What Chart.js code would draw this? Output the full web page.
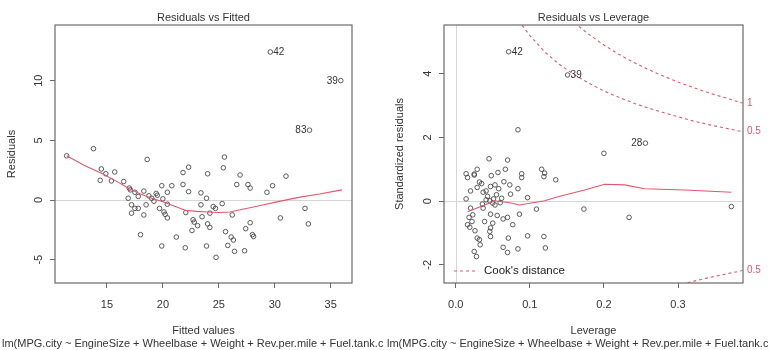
<!DOCTYPE html>
<html><head><meta charset="utf-8">
<script src="https://cdn.jsdelivr.net/npm/chart.js@4/dist/chart.umd.min.js"></script>
<style>
html,body{margin:0;padding:0;background:#fff;}
#wrap{position:relative;width:770px;height:350px;overflow:hidden;}
.pane{position:absolute;top:0;width:385px;height:350px;}
</style></head><body>
<div id="wrap">
<div class="pane" style="left:0"><canvas id="c1" width="385" height="350"></canvas></div>
<div class="pane" style="left:385px"><canvas id="c2" width="385" height="350"></canvas></div>
</div>
<script>
// ---- Residuals vs Fitted ----
const fittedValues = [11.4,13.8,14.5,14.9,15.7,18.6,21.8,22.3,24.0,25.4,25.5,26.9,31.0,29.6,35.9,33.1,
 14.4,15.4,16.5,17.0,17.1,17.5,16.9,17.8,18.3,18.75,19.0,19.2,19.4,19.5,19.9,20.0,20.4,20.8,21.8,22.3,
 17.2,17.5,17.2,17.8,18.3,18.5,19.7,20.1,20.2,20.4,20.4,18.0,19.9,21.2,22.0,22.05,
 23.4,23.9,23.4,23.5,22.7,22.8,22.6,23.1,24.0,24.2,24.2,24.5,24.7,23.9,24.75,
 25.3,25.6,25.8,26.1,26.3,26.4,26.2,26.6,27.6,27.8,27.8,27.4,27.3,28.0,28.1,29.3,29.8,30.5,32.7,33.0];
const residuals = [3.7,4.3,2.6,2.2,2.35,3.4,2.3,2.75,2.2,2.7,3.6,2.1,2.0,12.4,10.0,5.85,
 1.65,1.6,1.55,1.0,0.85,0.65,0.15,0.3,0.75,0.35,0.15,-0.1,0.55,0.4,1.2,0.1,0.65,1.2,1.3,0.7,
 -0.4,-0.7,-1.1,-0.7,-1.25,-0.4,-0.7,-1.0,-1.2,-1.5,-0.35,-2.9,-3.85,-3.1,-4.0,-1.05,
 0.6,0.15,-0.4,-1.4,-1.65,-1.85,-2.55,-2.15,-2.0,-2.3,-1.1,-0.55,-0.7,-3.85,-4.8,
 -0.3,-2.65,-3.8,-3.1,-3.35,-4.3,-1.25,1.3,1.3,1.0,-1.9,-2.4,-4.25,-2.9,-3.05,0.65,1.2,-1.5,-0.7,-2.0];
const smoothFitX = [11.4,13,14.6,16,17,18,19,20,21,22,23,24,25,26,27,28,29,30,32,34,36];
const smoothFitY = [3.7,2.9,2.2,1.5,0.95,0.5,0.15,-0.15,-0.5,-0.85,-0.95,-1.0,-1.05,-1.0,-0.8,-0.6,-0.4,-0.2,0.2,0.5,0.85];
const fitLabels = [{x:29.6,y:12.4,t:'42',side:'r'},{x:35.9,y:10.0,t:'39',side:'l'},{x:33.1,y:5.85,t:'83',side:'l'}];
const fitXTicks = [15,20,25,30,35];
const fitYTicks = [-5,0,5,10];

// ---- Residuals vs Leverage ----
const leverage = [0.0715,0.151,0.256,0.200,0.084,0.045,0.070,0.029,0.067,0.116,0.057,0.025,0.372,0.234,0.173,0.109,
 0.097,0.135,0.119,0.089,0.084,0.073,0.065,0.074,0.062,0.058,0.086,0.077,0.070,0.064,0.056,0.047,
 0.097,0.119,0.121,0.084,0.070,0.064,0.071,0.047,0.046,0.047,0.050,0.039,0.032,0.033,0.029,0.025,0.028,
 0.026,0.019,0.016,0.022,0.018,0.023,0.020,0.014,0.016,0.025,0.032,0.029,0.020,0.037,0.041,0.047,0.053,
 0.041,0.046,0.050,0.053,0.051,0.037,0.036,0.055,0.060,0.043,0.035,0.048,0.014,0.089,0.120];
const stdResiduals = [4.69,3.96,1.82,1.50,2.24,1.33,1.29,1.00,1.00,1.00,0.90,0.85,-0.17,-0.51,-0.25,-0.25,
 0.11,0.67,0.77,0.74,0.39,0.51,0.61,0.22,0.09,0.39,-0.41,-0.74,-0.51,-0.56,-0.45,-0.41,
 -1.09,-1.11,-1.47,-1.50,-1.61,-1.45,-1.16,-1.11,-0.95,-0.84,-0.69,-0.64,-1.21,-1.37,-1.16,-1.58,-1.74,
 -0.93,-0.82,-0.74,-0.64,-0.51,-0.43,-0.22,0.07,0.74,0.82,0.60,0.43,0.32,0.28,0.32,0.46,0.51,
 0.04,0.01,-0.06,-0.12,0.07,-0.22,-0.09,0.20,-0.05,0.15,0.55,0.80,0.86,0.86,0.88];
const smoothLevX = [0.016,0.039,0.053,0.075,0.086,0.102,0.120,0.138,0.174,0.201,0.228,0.255,0.309,0.372];
const smoothLevY = [-0.33,-0.12,0.01,-0.06,-0.12,-0.06,0.01,0.14,0.35,0.53,0.51,0.39,0.35,0.28];
const cookHalfX = [0.085,0.09,0.10,0.12,0.14,0.16,0.18,0.20,0.22,0.24,0.26,0.28,0.30,0.32,0.34,0.36,0.387];
const cookHalfY = [5.68,5.51,5.20,4.69,4.29,3.97,3.70,3.46,3.26,3.08,2.92,2.78,2.65,2.52,2.41,2.31,2.18];
const cookOneX = [0.16,0.165,0.18,0.20,0.22,0.24,0.26,0.28,0.30,0.32,0.34,0.36,0.387];
const cookOneY = [5.61,5.51,5.23,4.90,4.61,4.36,4.13,3.93,3.74,3.57,3.41,3.27,3.08];
const cookHalfLowX = [0.305,0.32,0.34,0.36,0.387];
const cookHalfLowY = [-2.62,-2.52,-2.41,-2.31,-2.18];
const levLabels = [{x:0.0715,y:4.69,t:'42',side:'r'},{x:0.151,y:3.96,t:'39',side:'r'},{x:0.256,y:1.82,t:'28',side:'l'}];
const levXTicks = [0,0.1,0.2,0.3];
const levXTickLabels = ['0.0','0.1','0.2','0.3'];
const levYTicks = [-2,0,2,4];
const caption = 'lm(MPG.city ~ EngineSize + Wheelbase + Weight + Rev.per.mile + Fuel.tank.c';

const RED = '#E2566C';
const FONT = '"Liberation Sans", Arial, sans-serif';
const zip = (a,b) => a.map((v,i)=>({x:v,y:b[i]}));

const deco = {
  id:'rdeco',
  beforeDatasetsDraw(chart){
    const o = chart.options.plugins.rdeco; const {ctx, chartArea:a, scales} = chart;
    ctx.save();
    ctx.beginPath(); ctx.rect(a.left,a.top,a.right-a.left,a.bottom-a.top); ctx.clip();
    ctx.strokeStyle = '#d6d6d6'; ctx.lineWidth = 1; ctx.setLineDash([]);
    const y0 = Math.round(scales.y.getPixelForValue(0))+0.5;
    ctx.beginPath(); ctx.moveTo(a.left,y0); ctx.lineTo(a.right,y0); ctx.stroke();
    if (o.vzero){
      const x0 = Math.round(scales.x.getPixelForValue(0))+0.5;
      ctx.beginPath(); ctx.moveTo(x0,a.top); ctx.lineTo(x0,a.bottom); ctx.stroke();
    }
    ctx.restore();
  },
  afterDraw(chart){
    const o = chart.options.plugins.rdeco; const {ctx, chartArea:a, scales} = chart;
    ctx.save();
    ctx.strokeStyle = '#6a6a6a'; ctx.lineWidth = 1.2; ctx.setLineDash([]);
    ctx.strokeRect(a.left, a.top, a.right-a.left, a.bottom-a.top);
    ctx.fillStyle = '#333';
    ctx.font = '11px ' + FONT;
    // y tick labels (rotated, R style)
    for (const t of scales.y.ticks){
      const py = scales.y.getPixelForValue(t.value);
      ctx.save(); ctx.translate(a.left-16, py); ctx.rotate(-Math.PI/2);
      ctx.textAlign='center'; ctx.textBaseline='middle'; ctx.fillText(String(t.value),0,0); ctx.restore();
    }
    const cx = (a.left+a.right)/2;
    ctx.textAlign='center'; ctx.textBaseline='middle';
    ctx.font = '11px ' + FONT;
    ctx.fillText(o.title, cx, 18);
    ctx.fillText(o.xTitle, cx, 331);
    ctx.save(); ctx.translate(o.yTitleX, (a.top+a.bottom)/2); ctx.rotate(-Math.PI/2);
    ctx.fillText(o.yTitle,0,0); ctx.restore();
    ctx.textAlign='left';
    ctx.fillText(caption, 2, 344);
    // point labels
    ctx.font = '10px ' + FONT;
    for (const l of o.labels){
      const px = scales.x.getPixelForValue(l.x), py = scales.y.getPixelForValue(l.y);
      ctx.textAlign = l.side==='r' ? 'left' : 'right';
      ctx.fillText(l.t, l.side==='r' ? px+3 : px-3, py+0.5);
    }
    if (o.cook){
      ctx.fillStyle = RED; ctx.textAlign='left'; ctx.font='10px ' + FONT;
      const n=cookOneX.length-1, m=cookHalfX.length-1, k=cookHalfLowX.length-1;
      ctx.fillText('1', a.right+4, scales.y.getPixelForValue(cookOneY[n]));
      ctx.fillText('0.5', a.right+4, scales.y.getPixelForValue(cookHalfY[m]));
      ctx.fillText('0.5', a.right+4, scales.y.getPixelForValue(cookHalfLowY[k]));
      // legend
      const ly = 271;
      ctx.strokeStyle = RED; ctx.lineWidth=1; ctx.setLineDash([3,3]);
      ctx.beginPath(); ctx.moveTo(a.left+10, ly); ctx.lineTo(a.left+32, ly); ctx.stroke();
      ctx.setLineDash([]);
      ctx.fillStyle = '#222'; ctx.font='11.5px ' + FONT; ctx.textBaseline='middle';
      ctx.fillText("Cook's distance", a.left+40, ly);
    }
    ctx.restore();
  }
};

function makeChart(id, cfg){
  const pointDs = {data: cfg.points, showLine:false, pointRadius:2.3, pointBorderWidth:0.9,
    pointBorderColor:'#4a4a4a', pointBackgroundColor:'rgba(0,0,0,0)', order:1};
  const lineDs = (d, dash) => ({data:d, showLine:true, pointRadius:0, borderColor:RED, borderWidth:1.1,
    borderDash: dash||[], tension:0, fill:false, order:0});
  const ds = [pointDs, lineDs(cfg.smooth)];
  (cfg.extra||[]).forEach(d=>ds.push(lineDs(d,[3,3])));
  return new Chart(document.getElementById(id), {
    type:'scatter',
    data:{datasets:ds},
    plugins:[deco],
    options:{
      responsive:false, animation:false, devicePixelRatio:1,
      layout:{padding:{left:0,right:cfg.padRight,top:25,bottom:0}},
      plugins:{legend:{display:false}, tooltip:{enabled:false}, title:{display:false}, rdeco:cfg.deco},
      scales:{
        x:{type:'linear', min:cfg.xmin, max:cfg.xmax,
          afterBuildTicks:s=>{s.ticks = cfg.xTicks.map(v=>({value:v}));},
          afterFit:s=>{s.height = 67;},
          grid:{display:true, drawOnChartArea:false, drawTicks:true, tickLength:5, color:'#6a6a6a'},
          border:{display:false},
          ticks:{color:'#333', font:{size:11, family:FONT}, padding:10, maxRotation:0, autoSkip:false,
            callback:(v,i)=>cfg.xTickLabels ? cfg.xTickLabels[i] : String(v)}},
        y:{type:'linear', min:cfg.ymin, max:cfg.ymax,
          afterBuildTicks:s=>{s.ticks = cfg.yTicks.map(v=>({value:v}));},
          afterFit:s=>{s.width = cfg.left;},
          grid:{display:true, drawOnChartArea:false, drawTicks:true, tickLength:5, color:'#6a6a6a'},
          border:{display:false},
          ticks:{display:false}}
      }
    }
  });
}

makeChart('c1', {
  points: zip(fittedValues, residuals), smooth: zip(smoothFitX, smoothFitY),
  xmin:10.36, xmax:36.9, ymin:-6.95, ymax:14.66, left:55, padRight:33,
  xTicks:fitXTicks, yTicks:fitYTicks,
  deco:{title:'Residuals vs Fitted', xTitle:'Fitted values', yTitle:'Residuals', yTitleX:12, labels:fitLabels, cook:false, vzero:false}
});
makeChart('c2', {
  points: zip(leverage, stdResiduals), smooth: zip(smoothLevX, smoothLevY),
  extra:[zip(cookHalfX,cookHalfY), zip(cookOneX,cookOneY), zip(cookHalfLowX,cookHalfLowY)],
  xmin:-0.0158, xmax:0.3877, ymin:-2.57, ymax:5.53, left:59, padRight:27,
  xTicks:levXTicks, xTickLabels:levXTickLabels, yTicks:levYTicks,
  deco:{title:'Residuals vs Leverage', xTitle:'Leverage', yTitle:'Standardized residuals', yTitleX:15, labels:levLabels, cook:true, vzero:true}
});
</script>
</body></html>
